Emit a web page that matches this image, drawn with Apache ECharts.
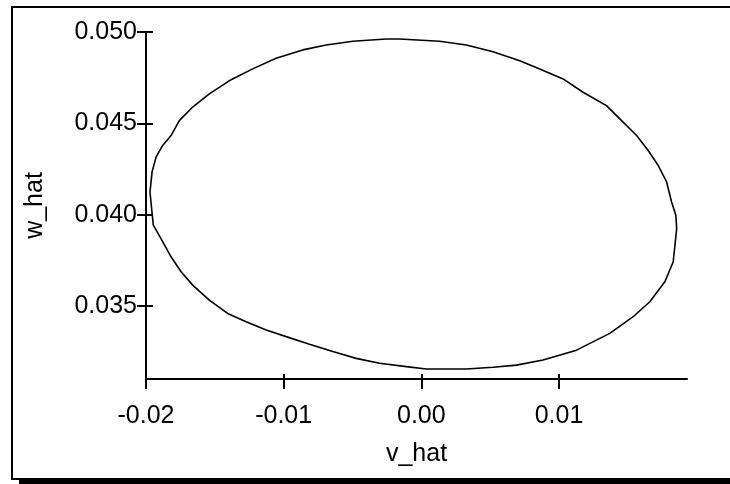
<!DOCTYPE html>
<html>
<head>
<meta charset="utf-8">
<script src="https://cdn.jsdelivr.net/npm/echarts@6/dist/echarts.min.js"></script>
<style>
  html, body { margin: 0; padding: 0; background: #fff; }
  #main { width: 730px; height: 484px; }
</style>
</head>
<body>
<div id="main"></div>
<script>
// phase curve (v_hat, w_hat)
const vHat = [
  0.00133, -0.00158, -0.00255, -0.00497, -0.00691, -0.00861, -0.01055, -0.01225,
  -0.01382, -0.01540, -0.01661, -0.01758, -0.01818, -0.01879, -0.01927, -0.01956,
  -0.01971, -0.01947, -0.01891, -0.01818, -0.01745, -0.01661, -0.01540, -0.01407,
  -0.01273, -0.01127, -0.00982, -0.00812, -0.00643, -0.00473, -0.00303, -0.00109,
  0.00036, 0.00327, 0.00521, 0.00691, 0.00884, 0.01127, 0.01369, 0.01539,
  0.01660, 0.01769, 0.01830, 0.01855, 0.01849, 0.01818, 0.01782, 0.01721,
  0.01648, 0.01564, 0.01455, 0.01345, 0.01175, 0.01030, 0.00860, 0.00715,
  0.00521, 0.00327, 0.00133
];
const wHat = [
  0.04949, 0.04962, 0.04962, 0.04949, 0.04929, 0.04902, 0.04856, 0.04798,
  0.04739, 0.04661, 0.04589, 0.04515, 0.04433, 0.04379, 0.04315, 0.04233,
  0.04124, 0.03942, 0.03869, 0.03769, 0.03687, 0.03614, 0.03532, 0.03459,
  0.03414, 0.03368, 0.03332, 0.03290, 0.03250, 0.03213, 0.03186, 0.03168,
  0.03155, 0.03155, 0.03164, 0.03176, 0.03204, 0.03258, 0.03350, 0.03441,
  0.03523, 0.03632, 0.03742, 0.03923, 0.03996, 0.04069, 0.04179, 0.04269,
  0.04351, 0.04433, 0.04515, 0.04597, 0.04670, 0.04743, 0.04798, 0.04843,
  0.04892, 0.04929, 0.04949
];
const xTicks = [-0.02, -0.01, 0.00, 0.01];
const yTicks = [0.035, 0.040, 0.045, 0.050];

const font = 'Liberation Sans';
const points = vHat.map((v, i) => [v, wHat[i]]);

const myChart = echarts.init(document.getElementById('main'), null, { renderer: 'canvas' });

const lineStyle = { color: '#000', width: 2 };
const plotBox = { left: 146, top: 32, right: 43, bottom: 105, containLabel: false };

const option = {
  animation: false,
  backgroundColor: '#fff',
  // second grid on the same box only carries the inner half of the ticks
  grid: [Object.assign({}, plotBox), Object.assign({}, plotBox)],
  graphic: [
    {
      type: 'rect',
      shape: { x: 12, y: 7, width: 800, height: 472 },
      style: { fill: 'none', stroke: '#000', lineWidth: 2 },
      silent: true
    },
    {
      type: 'rect',
      shape: { x: 19, y: 480, width: 720, height: 6 },
      style: { fill: '#000' },
      silent: true
    }
  ],
  xAxis: [
    {
      type: 'value',
      gridIndex: 0,
      min: -0.02,
      max: 0.0193,
      name: 'v_hat',
      nameLocation: 'middle',
      nameGap: 63,
      nameTextStyle: { fontFamily: font, fontSize: 25, color: '#000' },
      splitLine: { show: false },
      axisLine: { onZero: false, lineStyle: lineStyle },
      axisTick: { customValues: xTicks, length: 10, lineStyle: lineStyle },
      axisLabel: {
        customValues: xTicks,
        margin: 25,
        fontFamily: font,
        fontSize: 25,
        color: '#000',
        formatter: (v) => v.toFixed(2)
      }
    },
    {
      type: 'value',
      gridIndex: 1,
      position: 'bottom',
      min: -0.02,
      max: 0.0193,
      splitLine: { show: false },
      axisLine: { show: false, onZero: false },
      axisLabel: { show: false },
      axisTick: { inside: true, customValues: xTicks, length: 5, lineStyle: lineStyle }
    }
  ],
  yAxis: [
    {
      type: 'value',
      gridIndex: 0,
      min: 0.0310,
      max: 0.050,
      name: 'w_hat',
      nameLocation: 'middle',
      nameGap: 98,
      nameRotate: 90,
      nameTextStyle: { fontFamily: font, fontSize: 25, color: '#000' },
      splitLine: { show: false },
      axisLine: { onZero: false, lineStyle: lineStyle },
      axisTick: { customValues: yTicks, length: 9, lineStyle: lineStyle },
      axisLabel: {
        customValues: yTicks,
        margin: 9,
        fontFamily: font,
        fontSize: 25,
        color: '#000',
        formatter: (v) => v.toFixed(3)
      }
    },
    {
      type: 'value',
      gridIndex: 1,
      position: 'left',
      min: 0.0310,
      max: 0.050,
      splitLine: { show: false },
      axisLine: { show: false, onZero: false },
      axisLabel: { show: false },
      axisTick: { inside: true, customValues: yTicks, length: 7, lineStyle: lineStyle }
    }
  ],
  series: [{
    type: 'line',
    data: points,
    xAxisIndex: 0,
    yAxisIndex: 0,
    showSymbol: false,
    smooth: false,
    lineStyle: { color: '#000', width: 1.6 }
  }]
};

myChart.setOption(option);
</script>
</body>
</html>
